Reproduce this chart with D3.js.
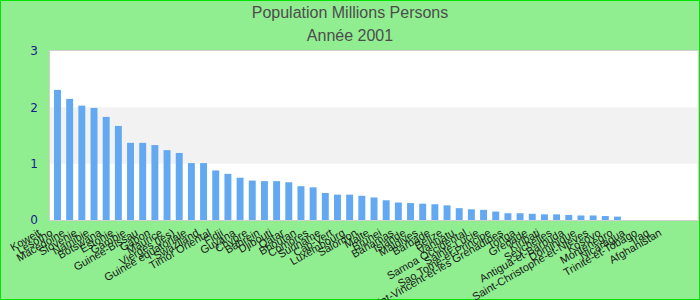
<!DOCTYPE html>
<html>
<head>
<meta charset="utf-8">
<script src="https://cdn.jsdelivr.net/npm/d3@7"></script>
<style>
  body { margin: 0; }
  svg { display: block; }
</style>
</head>
<body>
<script>
// categories, in the order shown on the x axis (the last one has no name)
var countries = ["Koweit", "Lesotho", "Macedoine", "Slovenie", "Namibie", "Botswana",
  "Estonie", "Gambie", "Guinee-Bissau", "Gabon", "Maurice", "Vierges (les)",
  "Guinee equatoriale", "Swaziland", "Timor Oriental", "Fidji", "Guyana", "Chypre",
  "Bahrein", "Djibouti", "Qatar", "Bhoutan", "Comores", "Suriname", "Cap-Vert",
  "Luxembourg", "Salomon", "Malte", "Brunei", "Bahamas", "Islande", "Maldives",
  "Barbade", "Belize", "Vanuatu", "Samoa Occidental", "Sainte-Lucie",
  "Sao Tome-et-Principe", "Saint-Vincent-et-les Grenadines", "Tonga",
  "Grenade", "Kiribati", "Seychelles", "Antigua-et-Barbuda", "Dominique",
  "Saint-Christophe-et-Nieves", "Kosovo", "Montenegro", "Nicaragua",
  "Trinite-et-Tobago", "Iraq", "Afghanistan", ""];

// population, millions
var population = [2.31, 2.15, 2.03, 1.99, 1.83, 1.67,
  1.37, 1.37, 1.33, 1.24, 1.19, 1.01,
  1.01, 0.88, 0.82, 0.75, 0.70, 0.69,
  0.69, 0.67, 0.60, 0.58, 0.48, 0.45, 0.45,
  0.43, 0.40, 0.35, 0.31, 0.30, 0.29, 0.28,
  0.26, 0.21, 0.19, 0.18, 0.15,
  0.12, 0.12, 0.11,
  0.10, 0.10, 0.09, 0.08, 0.08,
  0.07, 0.06, 0, 0,
  0, 0, 0, 0];

var yTicks = [0, 1, 2, 3];

var width = 700, height = 300;
var margin = { top: 51, right: 2, bottom: 80, left: 50 };

var svg = d3.select("body").append("svg")
    .attr("width", width)
    .attr("height", height);

// background and border
svg.append("rect")
    .attr("x", 0.5).attr("y", 0.5)
    .attr("width", width - 1).attr("height", height - 1)
    .style("fill", "#90ee90")
    .style("stroke", "#00e400")
    .style("stroke-width", 1);

// titles
svg.append("text")
    .attr("x", 350).attr("y", 18)
    .attr("text-anchor", "middle")
    .attr("font-family", "Liberation Sans, Arial, sans-serif")
    .attr("font-size", "16px")
    .attr("fill", "#4d4d4d")
    .text("Population Millions Persons");

svg.append("text")
    .attr("x", 350).attr("y", 41)
    .attr("text-anchor", "middle")
    .attr("font-family", "Liberation Sans, Arial, sans-serif")
    .attr("font-size", "16px")
    .attr("fill", "#4d4d4d")
    .text("Année 2001");

var x = d3.scaleBand()
    .domain(countries)
    .range([margin.left, width - margin.right])
    .paddingInner(0.43)
    .paddingOuter(0.33);

var y = d3.scaleLinear()
    .domain([0, 3])
    .range([height - margin.bottom, margin.top]);

// plot area with alternating bands
var plot = svg.append("g");

plot.append("rect")
    .attr("x", margin.left).attr("y", y(3))
    .attr("width", width - margin.right - margin.left)
    .attr("height", y(0) - y(3))
    .style("fill", "#ffffff");

plot.selectAll("rect.band")
    .data([1])
    .enter()
    .append("rect")
    .attr("class", "band")
    .attr("x", margin.left)
    .attr("y", function (d) { return y(d + 1); })
    .attr("width", width - margin.right - margin.left)
    .attr("height", function (d) { return y(d) - y(d + 1); })
    .style("fill", "#f2f2f2");

plot.append("rect")
    .attr("x", margin.left - 0.5).attr("y", y(3) - 0.5)
    .attr("width", width - margin.right - margin.left + 1)
    .attr("height", y(0) - y(3) + 1)
    .style("fill", "none")
    .style("stroke", "#d0d0d0");

// bars
svg.selectAll("rect.bar")
    .data(population)
    .enter()
    .append("rect")
    .attr("class", "bar")
    .attr("x", function (d, i) { return x(countries[i]); })
    .attr("y", function (d) { return y(d); })
    .attr("width", x.bandwidth())
    .attr("height", function (d) { return y(0) - y(d); })
    .style("fill", "#62a9f2");

// y axis
var yAxis = svg.append("g")
    .attr("transform", "translate(" + (margin.left - 9) + ",0)")
    .call(d3.axisLeft(y).tickValues(yTicks).tickSize(0).tickFormat(d3.format("d")));
yAxis.select(".domain").remove();
yAxis.selectAll("text")
    .attr("font-family", "DejaVu Sans, sans-serif")
    .attr("font-size", "12px")
    .attr("fill", "#1a1a8c");

// x axis labels
var xAxis = svg.append("g")
    .attr("transform", "translate(0," + y(0) + ")")
    .call(d3.axisBottom(x).tickSize(0));
xAxis.select(".domain").remove();
xAxis.selectAll("text")
    .attr("font-family", "Liberation Sans, Arial, sans-serif")
    .attr("font-size", "11px")
    .attr("fill", "#1a1a1a")
    .attr("text-anchor", "end")
    .attr("dy", null)
    .attr("y", null)
    .attr("transform", "translate(-16,15) rotate(-30)");
</script>
</body>
</html>
